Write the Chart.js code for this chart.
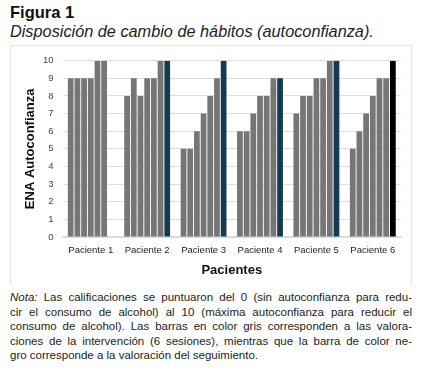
<!DOCTYPE html>
<html>
<head>
<meta charset="utf-8">
<script src="https://cdn.jsdelivr.net/npm/chart.js@4"></script>
<style>
  body { margin: 0; width: 424px; height: 370px; background: #fff; font-family: "Liberation Sans", Arial, sans-serif; color: #222; }
  .fig { position: absolute; left: 10px; top: 3px; font-size: 16.5px; font-weight: bold; color: #111; }
  .sub { position: absolute; left: 10px; top: 22px; font-size: 16.3px; font-style: italic; }
  .frame { position: absolute; left: 10px; top: 45px; width: 400px; height: 240px; border: 1px solid #e6e6e6; border-bottom: none; }
  .note { position: absolute; left: 10px; top: 290px; width: 402px; font-size: 11.5px; line-height: 14.5px; }
  .note div { text-align: justify; text-align-last: justify; }
  .note div.last { text-align-last: left; }
</style>
</head>
<body>
<div class="fig">Figura 1</div>
<div class="sub">Disposición de cambio de hábitos (autoconfianza).</div>
<div class="frame"><canvas id="chart" width="400" height="240"></canvas></div>
<div class="note">
  <div><i>Nota:</i> Las calificaciones se puntuaron del 0 (sin autoconfianza para redu-</div>
  <div>cir el consumo de alcohol) al 10 (máxima autoconfianza para reducir el</div>
  <div>consumo de alcohol). Las barras en color gris corresponden a las valora-</div>
  <div>ciones de la intervención (6 sesiones), mientras que la barra de color ne-</div>
  <div class="last">gro corresponde a la valoración del seguimiento.</div>
</div>
<script>
  // Patients on the x axis
  const pacientes = ["Paciente 1", "Paciente 2", "Paciente 3", "Paciente 4", "Paciente 5", "Paciente 6"];

  // Scores per session (6 intervention sessions), one value per patient
  const sesion1 = [9, 8, 5, 6, 7, 5];
  const sesion2 = [9, 9, 5, 6, 8, 6];
  const sesion3 = [9, 8, 6, 7, 8, 7];
  const sesion4 = [9, 9, 7, 8, 9, 8];
  const sesion5 = [10, 9, 8, 8, 9, 9];
  const sesion6 = [10, 10, 9, 9, 10, 9];
  // Follow-up score (patient 1 has none)
  const seguimiento = [null, 10, 10, 9, 10, 10];

  const yTicks = [0, 1, 2, 3, 4, 5, 6, 7, 8, 9, 10];

  const gray = "#767676";
  const followColors = ["#163a4f", "#163a4f", "#163a4f", "#163a4f", "#163a4f", "#000000"];

  const sesiones = [sesion1, sesion2, sesion3, sesion4, sesion5, sesion6];
  const datasets = sesiones.map((d, i) => ({
    label: "Sesión " + (i + 1),
    data: d,
    backgroundColor: gray
  }));
  datasets.push({
    label: "Seguimiento",
    data: seguimiento,
    backgroundColor: followColors
  });

  new Chart(document.getElementById("chart"), {
    type: "bar",
    data: { labels: pacientes, datasets: datasets },
    options: {
      responsive: false,
      animation: false,
      datasets: { bar: { categoryPercentage: 0.83, barPercentage: 0.86 } },
      layout: { padding: { left: 10, right: 10, top: 10, bottom: 4 } },
      plugins: { legend: { display: false }, tooltip: { enabled: false } },
      scales: {
        x: {
          grid: { display: false },
          border: { color: "#d9d9d9", width: 1.5 },
          ticks: { color: "#222", font: { family: "Liberation Sans", size: 9.5 }, maxRotation: 0, padding: 0 },
          title: { display: true, text: "Pacientes", color: "#111", font: { family: "Liberation Sans", size: 13, weight: "bold" }, padding: { top: 6, bottom: 4 } }
        },
        y: {
          min: 0,
          max: 10,
          afterBuildTicks: (axis) => { axis.ticks = yTicks.map(v => ({ value: v })); },
          grid: { color: "#dedede", drawTicks: false },
          border: { display: false },
          ticks: { color: "#444", font: { family: "Liberation Sans", size: 9.5 }, padding: 9 },
          title: { display: true, text: "ENA Autoconfianza", color: "#111", font: { family: "Liberation Sans", size: 13, weight: "bold", lineHeight: 1 }, padding: { top: 3, bottom: -3 } }
        }
      }
    }
  });
</script>
</body>
</html>
